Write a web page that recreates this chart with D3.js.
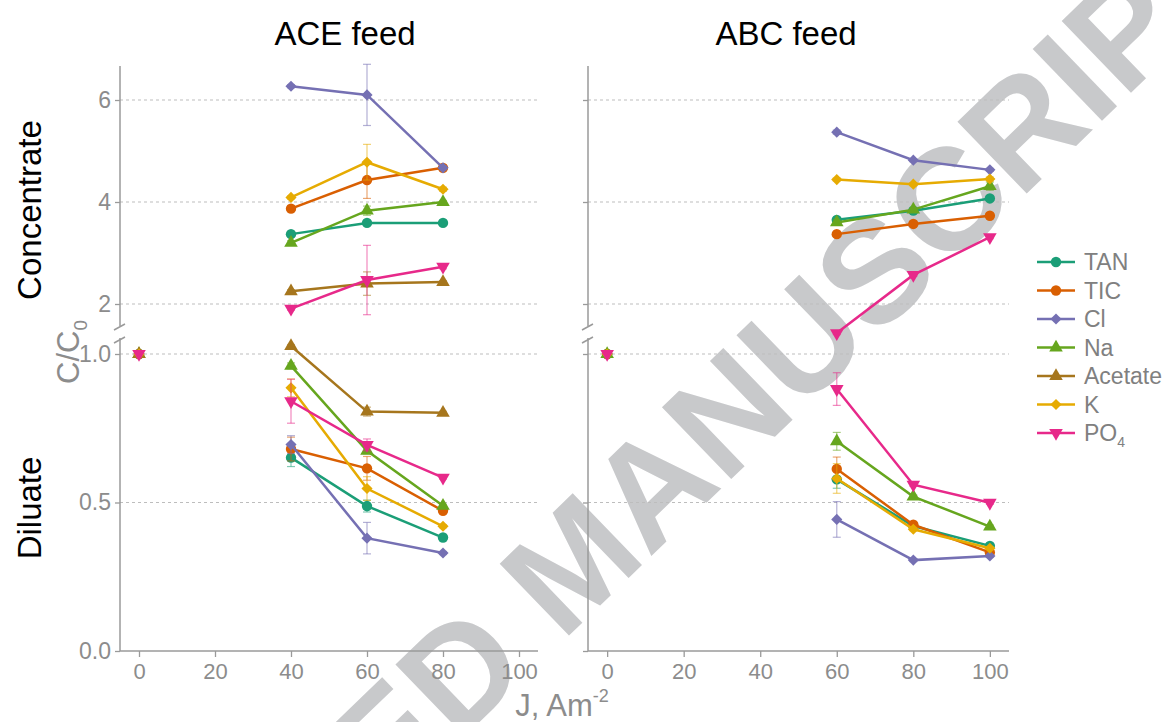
<!DOCTYPE html>
<html>
<head>
<meta charset="utf-8">
<script src="https://cdn.jsdelivr.net/npm/d3@7"></script>
<style>
  body { margin: 0; background: #fff; }
  text { font-family: 'Liberation Sans', Arial, Helvetica, sans-serif; }
</style>
</head>
<body>
<svg id="chart" width="1175" height="722"></svg>
<script>
// C/C0 of each species vs current density, for the ACE and ABC feeds

const seriesNames = ['TAN', 'TIC', 'Cl', 'Na', 'Acetate', 'K', 'PO4'];
const seriesColors = ['#1b9e77', '#d95f02', '#7570b3', '#66a61e', '#a6761d', '#e6ab02', '#e7298a'];
const seriesShapes = ['circle', 'circle', 'diamond', 'triangle', 'triangle', 'diamond', 'triangleDown'];

const xTicks = [0, 20, 40, 60, 80, 100];
const concTicks = [2, 4, 6];
const dilTicks = [0.0, 0.5, 1.0];

const aceCurrents = [40, 60, 80];
const abcCurrents = [60, 80, 100];
const startCurrent = 0;
const startValue = 1.0;

// ACE feed
const aceConcentrate = {
    TAN: [3.37, 3.59, 3.59],
    TIC: [3.87, 4.43, 4.67],
    Cl: [6.27, 6.10, 4.67],
    Na: [3.20, 3.83, 4.00],
    Acetate: [2.25, 2.40, 2.43],
    K: [4.09, 4.78, 4.25],
    PO4: [1.91, 2.47, 2.73]
};
const aceConcentrateErr = {
    TAN: [0.03, 0.04, 0.02],
    TIC: [0.05, 0.36, 0.05],
    Cl: [0.03, 0.60, 0.04],
    Na: [0.04, 0.09, 0.03],
    Acetate: [0.03, 0.23, 0.03],
    K: [0.03, 0.35, 0.04],
    PO4: [0.03, 0.68, 0.04]
};
const aceDiluate = {
    TAN: [0.651, 0.488, 0.382],
    TIC: [0.680, 0.615, 0.472],
    Cl: [0.695, 0.380, 0.330],
    Na: [0.960, 0.674, 0.489],
    Acetate: [1.027, 0.806, 0.802],
    K: [0.886, 0.547, 0.420],
    PO4: [0.841, 0.694, 0.584]
};
const aceDiluateErr = {
    TAN: [0.03, 0.02, 0.005],
    TIC: [0.04, 0.04, 0.005],
    Cl: [0.03, 0.053, 0.005],
    Na: [0.01, 0.01, 0.005],
    Acetate: [0.005, 0.015, 0.005],
    K: [0.03, 0.04, 0.005],
    PO4: [0.074, 0.02, 0.005]
};

// ABC feed (no acetate)
const abcConcentrate = {
    TAN: [3.65, 3.83, 4.07],
    TIC: [3.37, 3.57, 3.73],
    Cl: [5.37, 4.82, 4.63],
    Na: [3.60, 3.85, 4.31],
    Acetate: null,
    K: [4.44, 4.35, 4.45],
    PO4: [1.43, 2.57, 3.31]
};
const abcConcentrateErr = {
    TAN: [0.04, 0.03, 0.05],
    TIC: [0.03, 0.03, 0.03],
    Cl: [0.04, 0.03, 0.03],
    Na: [0.05, 0.03, 0.08],
    Acetate: null,
    K: [0.03, 0.03, 0.04],
    PO4: [0.03, 0.03, 0.03]
};
const abcDiluate = {
    TAN: [0.578, 0.421, 0.354],
    TIC: [0.613, 0.425, 0.332],
    Cl: [0.443, 0.306, 0.320],
    Na: [0.706, 0.520, 0.419],
    Acetate: null,
    K: [0.581, 0.410, 0.346],
    PO4: [0.882, 0.560, 0.499]
};
const abcDiluateErr = {
    TAN: [0.03, 0.005, 0.005],
    TIC: [0.04, 0.005, 0.005],
    Cl: [0.06, 0.005, 0.005],
    Na: [0.03, 0.005, 0.005],
    Acetate: null,
    K: [0.05, 0.005, 0.005],
    PO4: [0.055, 0.005, 0.005]
};

const panels = [
    { title: 'ACE feed', titleX: 345, left: 120, right: 538, currents: aceCurrents,
      conc: aceConcentrate, concErr: aceConcentrateErr, dil: aceDiluate, dilErr: aceDiluateErr, labels: true },
    { title: 'ABC feed', titleX: 786, left: 588, right: 1009, currents: abcCurrents,
      conc: abcConcentrate, concErr: abcConcentrateErr, dil: abcDiluate, dilErr: abcDiluateErr, labels: false }
];

const axisColor = '#9a9a9a';
const tickTextColor = '#8c8c8c';

const svg = d3.select('#chart');

// Shared vertical scales: broken axis, concentrate on top, diluate below
const yConc = d3.scaleLinear().domain([2, 6]).range([304, 100]);
const yDil = d3.scaleLinear().domain([0, 1]).range([651, 354]);
const concTop = 66, concBottom = 326, dilTop = 338, dilBottom = 651;

// Watermark sits behind the data
svg.append('text')
    .attr('transform', 'translate(572,560) rotate(-44)')
    .attr('text-anchor', 'middle')
    .attr('dy', '0.36em')
    .attr('font-size', '145px')
    .attr('font-weight', 'bold')
    .attr('fill', '#c8c9cb')
    .text('ACCEPTED MANUSCRIPT');

function symbolPath(shape) {
    if (shape === 'circle') return d3.symbol(d3.symbolCircle, 85)();
    if (shape === 'diamond') return d3.symbol(d3.symbolSquare, 62)();
    return d3.symbol(d3.symbolTriangle, 80)();
}
function symbolRotate(shape) {
    if (shape === 'diamond') return 45;
    if (shape === 'triangleDown') return 180;
    return 0;
}
function drawMarker(g, cx, cy, i) {
    g.append('path')
        .attr('d', symbolPath(seriesShapes[i]))
        .attr('transform', `translate(${cx},${cy}) rotate(${symbolRotate(seriesShapes[i])})`)
        .attr('fill', seriesColors[i]);
}

panels.forEach(p => {
    const x = d3.scaleLinear().domain([-5, 105]).range([p.left, p.right]);
    const g = svg.append('g');

    // Title
    g.append('text')
        .attr('x', p.titleX)
        .attr('y', 45)
        .attr('text-anchor', 'middle')
        .attr('font-size', '33px')
        .attr('fill', '#000')
        .text(p.title);

    // Grid lines
    concTicks.forEach(t => {
        g.append('line')
            .attr('x1', p.left).attr('x2', p.right)
            .attr('y1', yConc(t)).attr('y2', yConc(t))
            .attr('stroke', '#bdbdbd').attr('stroke-width', 1)
            .attr('stroke-dasharray', '3,3');
    });
    dilTicks.filter(t => t > 0).forEach(t => {
        g.append('line')
            .attr('x1', p.left).attr('x2', p.right)
            .attr('y1', yDil(t)).attr('y2', yDil(t))
            .attr('stroke', '#bdbdbd').attr('stroke-width', 1)
            .attr('stroke-dasharray', '3,3');
    });

    // Y axes (upper and lower part of the broken axis)
    const concAxis = g.append('g')
        .attr('transform', `translate(${p.left},0)`)
        .call(d3.axisLeft(yConc).tickValues(concTicks).tickSize(5).tickFormat(p.labels ? d3.format('d') : () => ''));
    const dilAxis = g.append('g')
        .attr('transform', `translate(${p.left},0)`)
        .call(d3.axisLeft(yDil).tickValues(dilTicks).tickSize(5).tickFormat(p.labels ? d3.format('.1f') : () => ''));
    [concAxis, dilAxis].forEach(a => {
        a.select('.domain').remove();
        a.selectAll('.tick line').attr('stroke', axisColor).attr('stroke-width', 1.3);
        a.selectAll('.tick text')
            .attr('fill', tickTextColor)
            .attr('font-size', '23px')
            .attr('x', -9)
            .attr('font-family', "'Liberation Sans', Arial, sans-serif");
    });
    g.append('line')
        .attr('x1', p.left).attr('x2', p.left)
        .attr('y1', concTop).attr('y2', concBottom)
        .attr('stroke', axisColor).attr('stroke-width', 1.5);
    g.append('line')
        .attr('x1', p.left).attr('x2', p.left)
        .attr('y1', dilTop).attr('y2', dilBottom)
        .attr('stroke', axisColor).attr('stroke-width', 1.5);
    // Break marks
    [concBottom + 1, dilTop + 2].forEach(by => {
        g.append('line')
            .attr('x1', p.left - 6).attr('y1', by + 3)
            .attr('x2', p.left + 5).attr('y2', by - 3)
            .attr('stroke', axisColor).attr('stroke-width', 1.5);
    });

    // X axis
    const xAxis = g.append('g')
        .attr('transform', `translate(0,${dilBottom})`)
        .call(d3.axisBottom(x).tickValues(xTicks).tickSize(6).tickSizeOuter(0).tickPadding(6));
    xAxis.select('.domain').attr('stroke', axisColor).attr('stroke-width', 1.5)
        .attr('d', `M${p.left},0H${p.right}`);
    xAxis.selectAll('.tick line').attr('stroke', axisColor).attr('stroke-width', 1.3);
    xAxis.selectAll('.tick text')
        .attr('fill', tickTextColor)
        .attr('font-size', '22px')
        .attr('font-family', "'Liberation Sans', Arial, sans-serif");

    // Series: error bars, lines, markers
    const parts = [
        { y: yConc, vals: p.conc, errs: p.concErr },
        { y: yDil, vals: p.dil, errs: p.dilErr }
    ];
    parts.forEach(part => {
        seriesNames.forEach((name, i) => {
            const vals = part.vals[name];
            if (!vals) return;
            const errs = part.errs[name];
            const pts = vals.map((v, k) => ({ j: p.currents[k], v, e: errs[k] }));
            const color = seriesColors[i];

            pts.forEach(d => {
                const y1 = part.y(d.v - d.e), y2 = part.y(d.v + d.e);
                const cx = x(d.j);
                const eb = g.append('g').attr('stroke', color).attr('stroke-opacity', 0.55).attr('stroke-width', 1.2);
                eb.append('line').attr('x1', cx).attr('x2', cx).attr('y1', y1).attr('y2', y2);
                eb.append('line').attr('x1', cx - 4).attr('x2', cx + 4).attr('y1', y1).attr('y2', y1);
                eb.append('line').attr('x1', cx - 4).attr('x2', cx + 4).attr('y1', y2).attr('y2', y2);
            });

            g.append('path')
                .datum(pts)
                .attr('fill', 'none')
                .attr('stroke', color)
                .attr('stroke-width', 2.5)
                .attr('d', d3.line().x(d => x(d.j)).y(d => part.y(d.v)));

            pts.forEach(d => drawMarker(g, x(d.j), part.y(d.v), i));
        });
    });

    // Starting point, C/C0 = 1 for every species
    seriesNames.forEach((name, i) => {
        if (!p.dil[name]) return;
        drawMarker(g, x(startCurrent), yDil(startValue), i);
    });
});

// Row labels
svg.append('text')
    .attr('transform', 'translate(41,210) rotate(-90)')
    .attr('text-anchor', 'middle')
    .attr('font-size', '33px')
    .attr('fill', '#000')
    .text('Concentrate');
svg.append('text')
    .attr('transform', 'translate(41,508) rotate(-90)')
    .attr('text-anchor', 'middle')
    .attr('font-size', '33px')
    .attr('fill', '#000')
    .text('Diluate');

// Y axis title C/C0
const yTitle = svg.append('text')
    .attr('transform', 'translate(79,352) rotate(-90)')
    .attr('text-anchor', 'middle')
    .attr('font-size', '31px')
    .attr('fill', '#8c8c8c');
yTitle.append('tspan').text('C/C');
yTitle.append('tspan').attr('font-size', '19px').attr('dy', 8).text('0');

// X axis title
const xTitle = svg.append('text')
    .attr('x', 562)
    .attr('y', 716)
    .attr('text-anchor', 'middle')
    .attr('font-size', '31px')
    .attr('fill', '#8c8c8c');
xTitle.append('tspan').text('J, Am');
xTitle.append('tspan').attr('font-size', '18px').attr('dy', -14).text('-2');

// Legend
const legend = svg.append('g').attr('transform', 'translate(1037,262)');
seriesNames.forEach((name, i) => {
    const row = legend.append('g').attr('transform', `translate(0,${i * 28.5})`);
    row.append('line')
        .attr('x1', 0).attr('x2', 38)
        .attr('y1', 0).attr('y2', 0)
        .attr('stroke', seriesColors[i]).attr('stroke-width', 2.5);
    drawMarker(row, 19, 0, i);
    const t = row.append('text')
        .attr('x', 47)
        .attr('y', 0)
        .attr('dy', '0.36em')
        .attr('font-size', '23px')
        .attr('fill', '#808080');
    if (name === 'PO4') {
        t.append('tspan').text('PO');
        t.append('tspan').attr('font-size', '14px').attr('dy', 6).text('4');
    } else {
        t.text(name);
    }
});
</script>
</body>
</html>
